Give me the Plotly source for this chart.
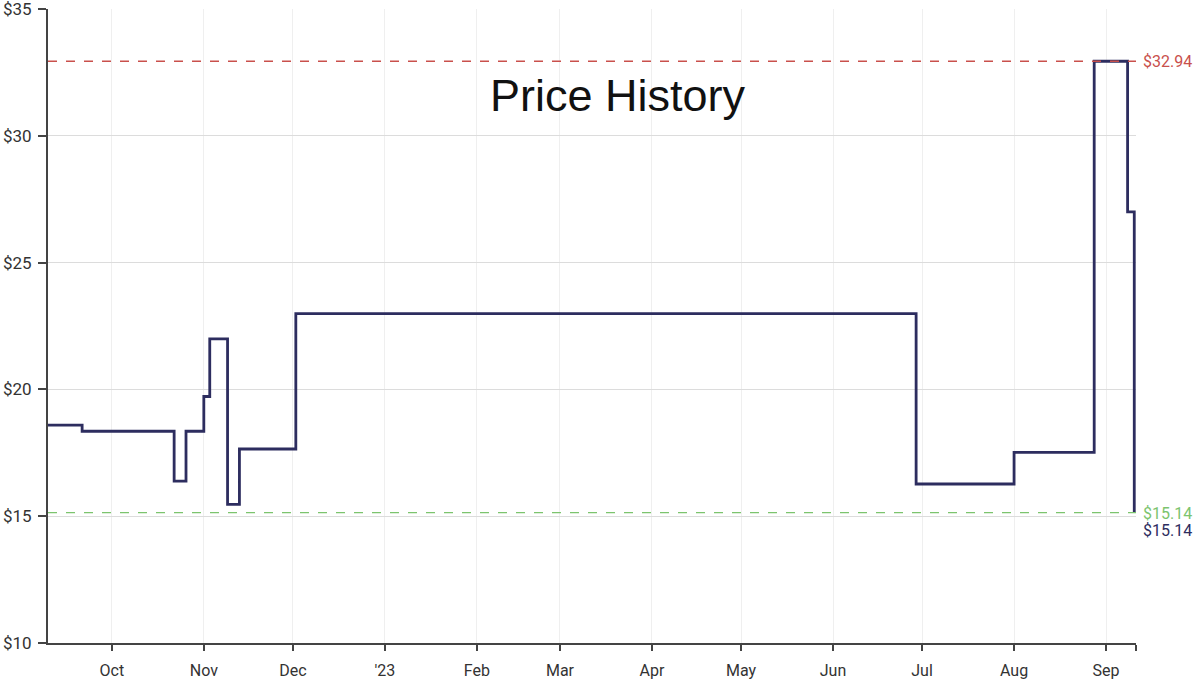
import plotly.graph_objects as go

# ---- data ----
dates = ["2022-09-09 12:00", "2022-09-21", "2022-10-22", "2022-10-26", "2022-11-01",
         "2022-11-03", "2022-11-09", "2022-11-13", "2022-12-02", "2023-06-29",
         "2023-08-01", "2023-08-28", "2023-09-08 06:00", "2023-09-10 12:00"]
prices = [18.59, 18.35, 16.38, 18.35, 19.72, 21.99, 15.47, 17.65, 22.99, 16.27,
          17.52, 32.94, 27.00, 15.14]

highest = 32.94
lowest = 15.14
current = 15.14

month_ticks = ["2022-10-01", "2022-11-01", "2022-12-01", "2023-01-01", "2023-02-01",
               "2023-03-01", "2023-04-01", "2023-05-01", "2023-06-01", "2023-07-01",
               "2023-08-01", "2023-09-01"]
month_labels = ["Oct", "Nov", "Dec", "'23", "Feb", "Mar", "Apr", "May", "Jun", "Jul",
                "Aug", "Sep"]

y_ticks = [10, 15, 20, 25, 30, 35]
y_labels = ["$" + str(v) for v in y_ticks]

x_start = dates[0]
x_end = "2023-09-11 02:00"

line_color = "#2d2d5f"
red = "#c9504c"
green = "#7cc46e"

fig = go.Figure()

fig.add_trace(go.Scatter(
    x=dates, y=prices, mode="lines", line=dict(shape="hv", color=line_color, width=2.8),
    hoverinfo="skip", showlegend=False))

# reference lines
fig.add_trace(go.Scatter(x=[x_start, x_end], y=[highest, highest], mode="lines",
                         line=dict(color=red, width=1.6, dash="dash"), showlegend=False, hoverinfo="skip"))
fig.add_trace(go.Scatter(x=[x_start, x_end], y=[lowest, lowest], mode="lines",
                         line=dict(color=green, width=1.4, dash="dash"), showlegend=False, hoverinfo="skip"))

font_main = "Roboto, sans-serif"

annots = [
    dict(x=1.0, xref="paper", y=highest, yref="y", text="$" + f"{highest:.2f}", showarrow=False,
         xanchor="left", xshift=5, font=dict(family=font_main, size=16, color=red)),
    dict(x=1.0, xref="paper", y=lowest, yref="y", text="$" + f"{lowest:.2f}", showarrow=False,
         xanchor="left", xshift=5, yshift=-1, font=dict(family=font_main, size=16, color=green)),
    dict(x=1.0, xref="paper", y=current, yref="y", text="$" + f"{current:.2f}", showarrow=False,
         xanchor="left", xshift=5, yshift=-18, font=dict(family=font_main, size=16, color=line_color)),
    dict(x=0.524, xref="paper", y=0.863, yref="paper", text="Price History", showarrow=False,
         xanchor="center", yanchor="middle", font=dict(family="Liberation Sans, Arial, sans-serif", size=45, color="#111")),
]

fig.update_layout(
    width=1200, height=681,
    margin=dict(l=48, r=64, t=9, b=38, autoexpand=False),
    paper_bgcolor="white", plot_bgcolor="white",
    annotations=annots,
    xaxis=dict(
        range=[x_start, x_end], type="date", automargin=False,
        tickvals=month_ticks + [x_end], ticktext=month_labels + [""],
        ticks="outside", ticklen=6, tickwidth=1.5, tickcolor="#444",
        showline=True, linecolor="#444", linewidth=2,
        showgrid=True, gridcolor="#efefef", gridwidth=1,
        tickfont=dict(family=font_main, size=16, color="#333"),
        ticklabelstandoff=6, zeroline=False, ticklabeloverflow="allow",
    ),
    yaxis=dict(
        range=[10, 35], tickvals=y_ticks, ticktext=y_labels, automargin=False,
        ticks="outside", ticklen=8, tickwidth=1.5, tickcolor="#444",
        showline=True, linecolor="#444", linewidth=2,
        showgrid=True, gridcolor="#dcdcdc", gridwidth=1,
        tickfont=dict(family=font_main, size=17, color="#333"),
        ticklabelstandoff=3, zeroline=False, ticklabeloverflow="allow",
    ),
)

fig.write_html("out.html", config={"displayModeBar": False},
               post_script="document.body.style.margin='0';document.body.style.overflow='hidden';")
